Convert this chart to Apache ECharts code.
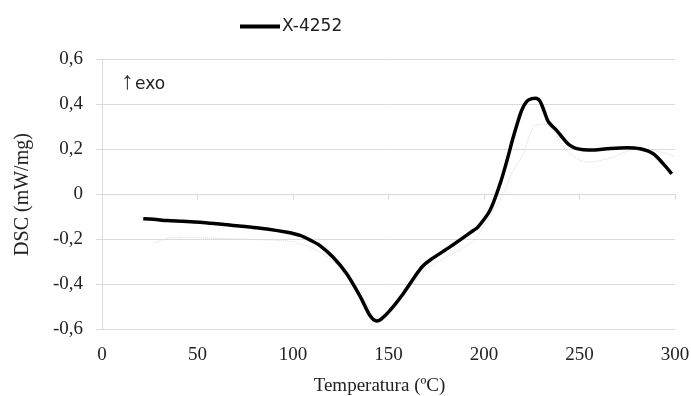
<!DOCTYPE html>
<html>
<head>
<meta charset="utf-8">
<script src="https://cdn.jsdelivr.net/npm/echarts@6/dist/echarts.min.js"></script>
<style>html,body{margin:0;padding:0;background:#fff}#c{width:691px;height:396px}</style>
</head>
<body>
<div id="c"></div>
<script>
var seriesName = 'X-4252';
var mainTemp = [21.6, 27, 34, 42, 51.3, 60, 68.6, 78, 86.4, 96.9, 103.7, 109, 114.1, 120.9, 128.1, 135.1, 140.3, 143.8, 146, 150.8, 157.7, 164, 168, 172, 182.2, 194.4, 196.8, 203.1, 208.4, 212, 215.3, 219.7, 222.5, 225.0, 227, 229.3, 231.5, 233.7, 238.1, 245.0, 252.0, 258, 264.2, 274.7, 281.7, 288.6, 293.9, 298.3];
var mainDSC  = [-0.108, -0.110, -0.116, -0.119, -0.123, -0.130, -0.138, -0.145, -0.153, -0.168, -0.182, -0.203, -0.227, -0.278, -0.352, -0.452, -0.538, -0.562, -0.555, -0.515, -0.441, -0.362, -0.318, -0.290, -0.233, -0.160, -0.145, -0.071, 0.047, 0.150, 0.254, 0.374, 0.415, 0.426, 0.428, 0.415, 0.370, 0.323, 0.284, 0.218, 0.199, 0.198, 0.203, 0.208, 0.203, 0.181, 0.136, 0.092];
var refTemp = [27, 35, 45, 60, 80, 100, 110, 120, 130, 138, 144, 150, 160, 170, 180, 194.4, 204.9, 210, 215.3, 220.6, 225.8, 231, 236.3, 243.3, 253.8, 260, 267.7, 276.4, 285, 292, 300];
var refDSC  = [-0.215, -0.195, -0.19, -0.195, -0.2, -0.21, -0.24, -0.29, -0.38, -0.48, -0.55, -0.52, -0.42, -0.33, -0.28, -0.204, -0.071, 0.0, 0.107, 0.18, 0.30, 0.314, 0.284, 0.196, 0.144, 0.15, 0.166, 0.196, 0.2, 0.19, 0.17];
var xTicks = [0, 50, 100, 150, 200, 250, 300];
var yTicks = [-0.6, -0.4, -0.2, 0, 0.2, 0.4, 0.6];

function zip(a, b) { return a.map(function (v, i) { return [v, b[i]]; }); }
function fmtY(v) { if (Math.abs(v) < 1e-9) return '0'; return v.toFixed(1).replace('.', ','); }

var chart = echarts.init(document.getElementById('c'));
chart.setOption({
  animation: false,
  backgroundColor: '#fff',
  grid: { left: 102, right: 16, top: 59.5, bottom: 66.5, containLabel: false, outerBoundsMode: 'none' },
  legend: {
    data: [{ name: seriesName, icon: 'rect' }],
    left: 235, top: 13,
    itemWidth: 40, itemHeight: 4, itemGap: 10,
    textStyle: { fontFamily: 'DejaVu Sans', fontSize: 17, color: '#222', padding: [8, 0, 0, -3] }
  },
  xAxis: {
    type: 'value', min: xTicks[0], max: xTicks[xTicks.length - 1], interval: 50,
    name: 'Temperatura (ºC)', nameLocation: 'middle', nameGap: 47,
    nameTextStyle: { fontFamily: 'Liberation Serif', fontSize: 19, color: '#222', padding: [0, 18, 0, 0] },
    axisLine: { show: true, lineStyle: { color: '#d9d9d9', width: 1 } },
    axisTick: { show: true, length: 5, lineStyle: { color: '#d9d9d9' } },
    axisLabel: { margin: 16, fontFamily: 'Liberation Serif', fontSize: 19, color: '#222' },
    splitLine: { show: false }
  },
  yAxis: {
    type: 'value', min: yTicks[0], max: yTicks[yTicks.length - 1], interval: 0.2,
    name: 'DSC (mW/mg)', nameLocation: 'middle', nameGap: 69, nameRotate: 90,
    nameTextStyle: { fontFamily: 'Liberation Serif', fontSize: 20, color: '#222' },
    axisLine: { show: true, lineStyle: { color: '#d9d9d9', width: 1 } },
    axisTick: { show: true, length: 6, lineStyle: { color: '#d9d9d9' } },
    axisLabel: { margin: 19, fontFamily: 'Liberation Serif', fontSize: 19, color: '#222', formatter: fmtY },
    splitLine: { show: true, lineStyle: { color: '#dcdcdc', width: 1 } }
  },
  graphic: [
    { type: 'text', left: 121, top: 70, style: { text: '↑', fontFamily: 'Liberation Sans', fontSize: 25, fill: '#333' } },
    { type: 'text', left: 135, top: 76, style: { text: 'exo', fontFamily: 'DejaVu Sans', fontSize: 17, fill: '#222' } }
  ],
  series: [
    {
      name: 'ref', type: 'line', data: zip(refTemp, refDSC), showSymbol: false, symbol: 'none',
      smooth: 0.3, lineStyle: { color: '#dadada', width: 1, type: 'dotted' }, z: 1, silent: true
    },
    {
      name: seriesName, type: 'line', data: zip(mainTemp, mainDSC), symbol: 'none',
      smooth: 0.3, lineStyle: { color: '#000', width: 3.5 }, itemStyle: { color: '#000' }, z: 3
    }
  ]
});
</script>
</body>
</html>
